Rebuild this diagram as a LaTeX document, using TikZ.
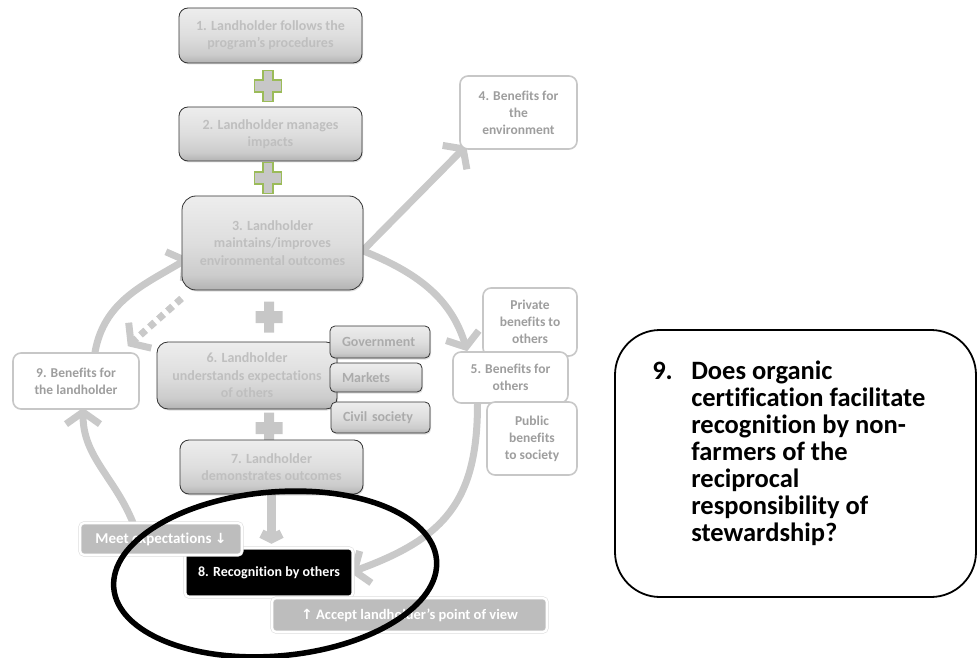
\documentclass[tikz,border=0pt]{standalone}
\usepackage{fontspec}
\setmainfont{Carlito}[Ligatures=NoCommon]
\newfontfamily\symfont{DejaVu Sans}
\usetikzlibrary{arrows.meta}
\usetikzlibrary{shadows}
\usetikzlibrary{backgrounds}
\definecolor{leafgreen}{HTML}{9BBB59}
% soft grey fill, darkening only near the bottom edge
\pgfdeclareverticalshading{stepfill}{100bp}{color(0bp)=(black!30); color(25bp)=(black!30);
  color(33bp)=(black!20); color(50bp)=(black!13); color(75bp)=(black!7); color(100bp)=(black!7)}

\tikzset{
  stepbox/.style={draw=black!80, line width=0.8pt, rounded corners=9pt,
    shading=stepfill, text=black!25, align=center, inner sep=0pt,
    font=\fontsize{14}{17.5}\selectfont\bfseries,
    drop shadow={opacity=0.25, shadow xshift=1pt, shadow yshift=-1.5pt}},
  sidebox/.style={stepbox, rounded corners=5pt, align=left, inner xsep=12pt, text=black!33},
  benefit/.style={draw=black!22, line width=1.6pt, rounded corners=8pt, fill=white,
    text=black!38, align=center, inner sep=0pt,
    font=\fontsize{13.5}{17}\selectfont\bfseries},
  tag/.style={fill=black!26, draw=black!15, double=white, double distance=2.2pt,
    line width=0.5pt, rounded corners=4pt, text=white, inner sep=0pt,
    font=\fontsize{15}{18}\selectfont\bfseries},
  flow/.style={draw=black!21, line width=7pt, line cap=round,
    -{Straight Barb[length=12pt,width=34pt]}},
  ring/.style={draw=black, line width=5.5pt},
  plussign/.pic={\path[pic actions] (-5,15.5) -- (5,15.5) -- (5,6) -- (13.5,6)
    -- (13.5,-6) -- (5,-6) -- (5,-15.5) -- (-5,-15.5) -- (-5,-6) -- (-13.5,-6)
    -- (-13.5,6) -- (-5,6) -- cycle;}
}

\begin{document}
\begin{tikzpicture}[x=1pt, y=1pt]
  \useasboundingbox (0,0) rectangle (978,-658);

  % Landholder steps down the middle
  \node[stepbox, minimum width=183pt, minimum height=55pt] (box1) at (270.5,-35.5) {1. Landholder follows the\\program’s procedures};
  \node[stepbox, minimum width=183pt, minimum height=54pt] (box2) at (270.5,-134) {2. Landholder manages\\impacts};
  \node[stepbox, minimum width=181pt, minimum height=94pt, rounded corners=14pt] (box3) at (272.5,-243) {3. Landholder\\maintains/improves\\environmental outcomes};
  \pic[fill=black!22, draw=leafgreen, line width=1.4pt] at (268,-86) {plussign};
  \pic[fill=black!22, draw=leafgreen, line width=1.4pt] at (268,-178) {plussign};
  \pic[fill=black!22] at (269,-317) {plussign};
  \pic[fill=black!22] at (269,-428) {plussign};
  \node[stepbox, minimum width=180pt, minimum height=67pt, rounded corners=11pt] (box6) at (247,-375.5) {6. Landholder\\understands expectations\\of others};
  \node[sidebox, text width=76pt, minimum height=32pt] (gov) at (380,-342) {Government};
  \node[sidebox, text width=68pt, minimum height=29pt] (mkt) at (376,-377.5) {Markets};
  \node[sidebox, text width=75pt, minimum height=31pt] (civ) at (380.5,-417.5) {Civil society};
  \node[stepbox, minimum width=183pt, minimum height=54pt] (box7) at (271.5,-467) {7. Landholder\\demonstrates outcomes};

  % Benefits round the cycle
  \node[benefit, minimum width=117pt, minimum height=73pt] (box4) at (518.5,-112.5) {4. Benefits for\\the\\environment};
  \node[benefit, minimum width=94pt, minimum height=68pt] (priv) at (530,-322) {Private\\benefits to\\others};
  \node[benefit, minimum width=115pt, minimum height=51pt] (box5) at (510.5,-377.5) {5. Benefits for\\others};
  \node[benefit, minimum width=90pt, minimum height=73pt] (pub) at (532,-438.5) {Public\\benefits\\to society};
  \node[benefit, minimum width=126pt, minimum height=56pt] (box9) at (76,-381) {9. Benefits for\\the landholder};

  % Recognition and its two tags
  \node[tag, fill=black, minimum width=168pt, minimum height=49pt, font=\fontsize{14}{17}\selectfont\bfseries] (rec) at (269,-572.5) {8. Recognition by others};
  \node[tag, minimum width=162pt, minimum height=32pt] (meet) at (161,-539) {Meet expectations {\symfont\fontsize{14}{16}\selectfont↓}};
  \node[tag, minimum width=275pt, minimum height=34pt, font=\fontsize{14.5}{18}\selectfont\bfseries] (accept) at (409.5,-615) {{\symfont\fontsize{14}{16}\selectfont↑} Accept landholder’s point of view};

  % Connectors behind the boxes
  \begin{scope}[on background layer]
    \draw[flow] ([yshift=-7pt]box3.east) -- ([xshift=7pt,yshift=4pt]box4.south west);
    \draw[flow] ([yshift=-8pt]box3.east) to[out=-22,in=107] ([xshift=15pt]box5.north west);
    \draw[flow] ([xshift=-33pt]box5.south) to[out=-90,in=20,looseness=1.2] ([xshift=-3pt]rec.east);
    \draw[flow] ([xshift=-28pt]meet.north) to[out=112,in=-90] ([xshift=7pt,yshift=2pt]box9.south);
    \draw[flow] ([xshift=19pt]box9.north) to[out=80,in=-149] ([xshift=7pt,yshift=-15pt]box3.west);
    \draw[flow, line cap=butt, dash pattern=on 7pt off 5pt] ([yshift=-8pt]box3.south west) -- ([xshift=-12pt,yshift=6pt]box9.north east);
    \draw[flow, line width=9pt, line cap=butt, -{Straight Barb[length=5pt,width=20pt]}, shorten >=4pt] (box7.south) -- (box7.south |- rec.north);
  \end{scope}

  % Highlight round step 8
  \draw[ring, shift={(rec.center)}, rotate=5] (6,-2) ellipse [x radius=162, y radius=82];

  % Question box
  \node[draw=black, line width=1.8pt, rounded corners=45pt, minimum width=361pt, minimum height=267pt] (quest) at (795.5,-463.5) {};
  \node[anchor=north west, inner sep=0pt, font=\fontsize{26.5}{27}\selectfont\bfseries] (qtext) at ([xshift=38pt,yshift=-31pt]quest.north west)
    {\begin{tabular}{@{}p{39pt}@{}l@{}}
      9. & Does organic\\
         & certification facilitate\\
         & recognition by non-\\
         & farmers of the\\
         & reciprocal\\
         & responsibility of\\
         & stewardship?
    \end{tabular}};
\end{tikzpicture}
\end{document}
